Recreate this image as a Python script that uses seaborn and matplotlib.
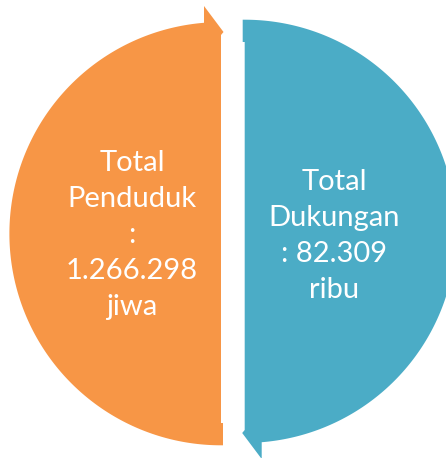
import numpy as np
import matplotlib
matplotlib.use("Agg")
import matplotlib.pyplot as plt
from matplotlib.patches import Polygon
import seaborn as sns

# data
titles = ["Total\nPenduduk\n:", "Total\nDukungan\n:"]
values = ["1.266.298", "82.309"]
units = ["jiwa", "ribu"]
colors = ["#F79646", "#4BACC6"]

sns.set_style("white")
plt.rcParams['font.family'] = ['Lato', 'DejaVu Sans']

W, H = 446, 458
fig = plt.figure(figsize=(W / 100, H / 100), dpi=100)
ax = fig.add_axes([0, 0, 1, 1])
ax.set_xlim(0, W)
ax.set_ylim(H, 0)
ax.axis("off")

# half circle with arrow head (left piece), pixel coords y down
cx, cy, R = 221.0, 233.7, 211.6
x_top = 204.0
t0 = np.pi / 2
t1 = 2 * np.pi - np.arccos((x_top - cx) / R)
theta = np.linspace(t0, t1, 300)
arc = np.column_stack([cx + R * np.cos(theta), cy + R * np.sin(theta)])
arc[0, 0] = 223.0
left = np.vstack([
    [[221, 35], [221, 423], [223, 423]],
    arc,
    [[204, 6], [223.5, 32]],
])

# right piece is the left one turned half way round
pc = np.array([232.85, 232.5])
right = 2 * pc - left

for pts, col in zip([left, right], colors):
    ax.add_patch(Polygon(pts, closed=True, facecolor=col, edgecolor="none"))

labels = [
    titles[0] + "\n" + values[0] + "\n" + units[0],
    "Total\nDukungan\n: " + values[1] + "\n" + units[1],
]
text_pos = [(132, 235), (334.5, 236)]
for (x, y), label in zip(text_pos, labels):
    ax.text(x, y, label, ha="center", va="center", color="white",
            fontsize=21, linespacing=1.47, multialignment="center")

fig.savefig("out.png", dpi=100)
